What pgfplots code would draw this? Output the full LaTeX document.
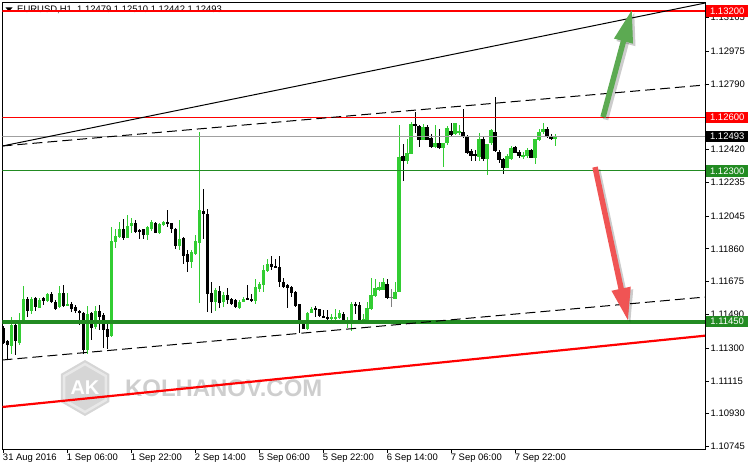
\documentclass[border=0pt]{standalone}
\usepackage{pgfplots}
\pgfplotsset{compat=1.18}
\usepackage{pgfplotstable}
\usepackage{fontspec}
\setmainfont{Liberation Sans}
\usetikzlibrary{arrows.meta}
\definecolor{bull}{RGB}{50,205,50}
\definecolor{lvlgreen}{RGB}{34,139,34}
\definecolor{lvlred}{RGB}{255,0,0}
\definecolor{curgray}{RGB}{160,160,160}
\definecolor{arrgreen}{RGB}{92,170,82}
\definecolor{arrred}{RGB}{240,84,84}
\definecolor{wm}{RGB}{206,206,206}
\newcommand\lbl{\fontsize{9.5}{11}\selectfont}

\pgfplotstableread{
i o h l c
2 1.11313 1.11477 1.11270 1.11430
4 1.11332 1.11496 1.11317 1.11453
5 1.11458 1.11650 1.11455 1.11577
7 1.11509 1.11590 1.11496 1.11577
9 1.11528 1.11581 1.11524 1.11571
11 1.11567 1.11612 1.11562 1.11605
14 1.11533 1.11650 1.11528 1.11609
16 1.11539 1.11609 1.11537 1.11552
21 1.11289 1.11537 1.11270 1.11492
23 1.11420 1.11537 1.11411 1.11509
27 1.11370 1.11984 1.11364 1.11904
28 1.11900 1.11975 1.11868 1.11932
29 1.11928 1.12013 1.11919 1.11975
31 1.11925 1.12050 1.11919 1.11988
32 1.11990 1.12032 1.11947 1.12004
36 1.11938 1.11988 1.11913 1.11984
37 1.11975 1.12022 1.11960 1.12013
39 1.11951 1.12007 1.11942 1.12000
40 1.11994 1.12017 1.11988 1.12013
44 1.11877 1.12022 1.11857 1.11919
47 1.11787 1.11853 1.11753 1.11840
48 1.11834 1.11942 1.11825 1.11904
49 1.11894 1.12520 1.11556 1.12079
53 1.11562 1.11637 1.11511 1.11627
55 1.11562 1.11618 1.11530 1.11603
59 1.11530 1.11571 1.11519 1.11562
60 1.11562 1.11590 1.11558 1.11577
63 1.11565 1.11690 1.11552 1.11646
64 1.11637 1.11672 1.11618 1.11665
65 1.11656 1.11768 1.11618 1.11740
66 1.11735 1.11802 1.11731 1.11774
76 1.11407 1.11505 1.11402 1.11502
77 1.11499 1.11533 1.11496 1.11520
82 1.11464 1.11496 1.11458 1.11473
83 1.11464 1.11520 1.11458 1.11477
84 1.11470 1.11515 1.11462 1.11499
86 1.11440 1.11477 1.11417 1.11449
87 1.11440 1.11562 1.11398 1.11548
90 1.11457 1.11492 1.11440 1.11466
91 1.11449 1.11562 1.11440 1.11530
92 1.11520 1.11694 1.11515 1.11603
93 1.11594 1.11690 1.11586 1.11637
94 1.11627 1.11674 1.11622 1.11643
95 1.11631 1.11694 1.11627 1.11674
98 1.11581 1.11674 1.11575 1.11618
99 1.11618 1.12558 1.11618 1.12376
101 1.12355 1.12483 1.12342 1.12402
102 1.12398 1.12577 1.12394 1.12564
105 1.12477 1.12562 1.12473 1.12548
108 1.12436 1.12558 1.12430 1.12458
110 1.12427 1.12455 1.12323 1.12455
111 1.12455 1.12553 1.12449 1.12539
113 1.12506 1.12568 1.12502 1.12568
114 1.12511 1.12558 1.12502 1.12524
119 1.12379 1.12511 1.12355 1.12483
121 1.12366 1.12449 1.12276 1.12449
122 1.12455 1.12539 1.12445 1.12530
126 1.12317 1.12393 1.12314 1.12383
127 1.12366 1.12441 1.12361 1.12430
130 1.12379 1.12407 1.12370 1.12389
131 1.12383 1.12427 1.12370 1.12417
133 1.12374 1.12483 1.12342 1.12479
134 1.12473 1.12539 1.12468 1.12517
135 1.12517 1.12571 1.12511 1.12539
138 1.12479 1.12510 1.12442 1.12493
}\upbars

\pgfplotstableread{
i o h l c
0 1.11417 1.11424 1.11323 1.11330
1 1.11340 1.11345 1.11233 1.11317
3 1.11434 1.11458 1.11265 1.11340
6 1.11577 1.11590 1.11477 1.11509
8 1.11581 1.11590 1.11511 1.11533
10 1.11581 1.11590 1.11543 1.11567
12 1.11605 1.11616 1.11556 1.11560
13 1.11562 1.11571 1.11515 1.11524
15 1.11612 1.11656 1.11533 1.11537
17 1.11552 1.11562 1.11505 1.11524
18 1.11533 1.11543 1.11496 1.11509
19 1.11509 1.11515 1.11430 1.11496
20 1.11499 1.11505 1.11270 1.11289
22 1.11499 1.11505 1.11345 1.11411
24 1.11509 1.11543 1.11402 1.11477
25 1.11486 1.11496 1.11299 1.11402
26 1.11406 1.11440 1.11293 1.11364
30 1.11971 1.12026 1.11913 1.11922
33 1.12007 1.12022 1.11951 1.11956
34 1.11964 1.11975 1.11919 1.11956
35 1.11970 1.11975 1.11919 1.11938
38 1.12007 1.12013 1.11947 1.11951
41 1.12011 1.12079 1.11984 1.12001
42 1.12004 1.12007 1.11951 1.11975
43 1.11975 1.11981 1.11859 1.11877
45 1.11922 1.11928 1.11774 1.11821
46 1.11829 1.11853 1.11731 1.11787
50 1.12073 1.12197 1.11919 1.12058
51 1.12060 1.12088 1.11505 1.11609
52 1.11612 1.11671 1.11496 1.11562
54 1.11622 1.11652 1.11524 1.11556
56 1.11599 1.11640 1.11552 1.11571
57 1.11577 1.11586 1.11543 1.11548
58 1.11571 1.11577 1.11530 1.11533
61 1.11584 1.11656 1.11571 1.11575
62 1.11577 1.11609 1.11562 1.11565
67 1.11774 1.11819 1.11740 1.11759
68 1.11765 1.11801 1.11750 1.11755
69 1.11759 1.11819 1.11646 1.11674
70 1.11674 1.11694 1.11637 1.11643
71 1.11656 1.11665 1.11528 1.11637
72 1.11643 1.11650 1.11590 1.11612
73 1.11618 1.11622 1.11533 1.11537
74 1.11547 1.11552 1.11387 1.11458
75 1.11458 1.11462 1.11407 1.11411
78 1.11524 1.11539 1.11477 1.11515
79 1.11520 1.11524 1.11477 1.11481
80 1.11483 1.11515 1.11468 1.11473
81 1.11477 1.11515 1.11458 1.11464
85 1.11496 1.11505 1.11434 1.11440
88 1.11548 1.11562 1.11492 1.11539
89 1.11543 1.11562 1.11449 1.11458
96 1.11665 1.11694 1.11581 1.11586
100 1.12383 1.12449 1.12244 1.12355
103 1.12564 1.12633 1.12511 1.12553
104 1.12553 1.12558 1.12436 1.12473
106 1.12548 1.12558 1.12473 1.12477
107 1.12486 1.12506 1.12427 1.12436
109 1.12455 1.12535 1.12423 1.12427
112 1.12524 1.12568 1.12498 1.12502
115 1.12520 1.12648 1.12489 1.12492
116 1.12496 1.12502 1.12393 1.12398
117 1.12411 1.12423 1.12355 1.12385
118 1.12396 1.12417 1.12355 1.12385
120 1.12483 1.12490 1.12355 1.12370
123 1.12520 1.12718 1.12404 1.12411
124 1.12407 1.12417 1.12342 1.12361
125 1.12366 1.12374 1.12282 1.12317
128 1.12436 1.12441 1.12402 1.12404
129 1.12404 1.12417 1.12370 1.12383
132 1.12417 1.12423 1.12370 1.12374
136 1.12539 1.12548 1.12483 1.12492
137 1.12498 1.12506 1.12473 1.12479
}\downbars

\pgfplotstableread{
i o h l c
97 1.11589 1.11637 1.11533 1.11591
}\dojibars

\pgfplotsset{
  wick/.style={only marks, mark=none, mark size=0pt, forget plot, error bars/.cd, y dir=both, y explicit, error mark=none, error bar style={#1, line width=1bp}},
  body/.style={only marks, mark=none, mark size=0pt, forget plot, error bars/.cd, y dir=both, y explicit, error mark=none, error bar style={#1, line width=3.3bp}},
}

\begin{document}
\begin{tikzpicture}
\useasboundingbox (0,0) rectangle (748bp,470bp);
% watermark
\fill[black!16] (85bp,82bp) ++(90:28bp) -- ++(-30:28bp) -- ++(-90:28bp) -- ++(-150:28bp) -- ++(150:28bp) -- ++(90:28bp) -- cycle;
\draw[black!9, line width=2.5bp] (85bp,82bp) ++(90:24bp) -- ++(-30:24bp) -- ++(-90:24bp) -- ++(-150:24bp) -- ++(150:24bp) -- ++(90:24bp) -- cycle;
\node[text=white, font=\bfseries\fontsize{20}{20}\selectfont] at (85bp,82bp) {AK};
\node[text=wm, font=\bfseries\fontsize{24}{24}\selectfont, anchor=west, inner sep=0pt] at (125bp,82bp) {KOLHANOV.COM};
% title
\fill[black] (5.5bp,462.5bp) -- (12.5bp,462.5bp) -- (9bp,458.5bp) -- cycle;
\node[anchor=west, inner sep=0pt, font=\lbl] at (17bp,460bp) {EURUSD,H1\ \ 1.12479 1.12510 1.12442 1.12493};
\begin{axis}[
  at={(2.5bp,21bp)}, anchor=south west,
  scale only axis, width=702.5bp, height=447bp,
  xmin=-0.2, xmax=175.5, ymin=1.10731, ymax=1.13252,
  axis line style={black, line width=0.9bp},
  tick style={black, line width=0.8bp},
  tick align=outside, major tick length=4bp,
  xtick pos=bottom, ytick pos=right, yticklabel pos=right,
  xtick={0,16,32,48,64,80,96,112,128},
  xticklabels={31 Aug 2016,1 Sep 06:00,1 Sep 22:00,2 Sep 14:00,5 Sep 06:00,5 Sep 22:00,6 Sep 14:00,7 Sep 06:00,7 Sep 22:00},
  xticklabel style={anchor=north west, xshift=-1.5bp, inner sep=1bp, font=\lbl},
  ytick={1.10745,1.10930,1.11115,1.11300,1.11490,1.11675,1.11860,1.12045,1.12235,1.12420,1.12790,1.12975,1.13165},
  yticklabels={1.10745,1.10930,1.11115,1.11300,1.11490,1.11675,1.11860,1.12045,1.12235,1.12420,1.12790,1.12975,1.13165},
  yticklabel style={anchor=west, inner sep=1bp, xshift=0.5bp, font=\lbl},
]
% wicks and bodies (centre of range with half-range error bars)
\addplot[wick=bull] table[x=i, y expr=(\thisrow{h}+\thisrow{l})/2, y error expr=(\thisrow{h}-\thisrow{l})/2] {\upbars};
\addplot[body=bull] table[x=i, y expr=(\thisrow{o}+\thisrow{c})/2, y error expr=abs(\thisrow{c}-\thisrow{o})/2] {\upbars};
\addplot[wick=black] table[x=i, y expr=(\thisrow{h}+\thisrow{l})/2, y error expr=(\thisrow{h}-\thisrow{l})/2] {\downbars};
\addplot[body=black] table[x=i, y expr=(\thisrow{o}+\thisrow{c})/2, y error expr=abs(\thisrow{o}-\thisrow{c})/2] {\downbars};
\addplot[wick=gray] table[x=i, y expr=(\thisrow{h}+\thisrow{l})/2, y error expr=(\thisrow{h}-\thisrow{l})/2] {\dojibars};
\addplot[body=gray] table[x=i, y expr=(\thisrow{o}+\thisrow{c})/2, y error expr=abs(\thisrow{c}-\thisrow{o})/2] {\dojibars};
% horizontal levels
\addplot[lvlred, line width=2.2bp] coordinates {(-0.2,1.13200) (175.5,1.13200)};
\addplot[lvlred, line width=1bp] coordinates {(-0.2,1.12600) (175.5,1.12600)};
\addplot[curgray, line width=1bp] coordinates {(-0.2,1.12493) (175.5,1.12493)};
\addplot[lvlgreen, line width=1bp] coordinates {(-0.2,1.12300) (175.5,1.12300)};
\addplot[lvlgreen, line width=4bp] coordinates {(-0.2,1.11450) (175.5,1.11450)};
% trend lines
\addplot[black, line width=1bp] coordinates {(-0.2,1.12440) (175.5,1.13246)};
\addplot[black, line width=1bp, dash pattern=on 10bp off 5bp] coordinates {(-0.2,1.12440) (175.5,1.12784)};
\addplot[black, line width=1bp, dash pattern=on 10bp off 5bp] coordinates {(-0.2,1.11233) (175.5,1.11588)};
\addplot[lvlred, line width=2.2bp] coordinates {(-0.2,1.10968) (175.5,1.11370)};
% arrows
\draw[black, opacity=0.2, line width=5.5bp, -{Triangle[length=33bp,width=18bp]}, xshift=2.5bp, yshift=-2.5bp] (axis cs:150,1.12603) -- (axis cs:157.25,1.13211);
\draw[arrgreen, line width=5.5bp, -{Triangle[length=33bp,width=18bp]}] (axis cs:150,1.12603) -- (axis cs:157.25,1.13211);
\draw[black, opacity=0.2, line width=5.5bp, -{Triangle[length=33bp,width=18bp]}, xshift=2.5bp, yshift=-2.5bp] (axis cs:148,1.12321) -- (axis cs:156.25,1.11453);
\draw[arrred, line width=5.5bp, -{Triangle[length=33bp,width=18bp]}] (axis cs:148,1.12321) -- (axis cs:156.25,1.11453);
\coordinate (b1) at (axis cs:175.5,1.13200);
\coordinate (b2) at (axis cs:175.5,1.12600);
\coordinate (b3) at (axis cs:175.5,1.12493);
\coordinate (b4) at (axis cs:175.5,1.12300);
\coordinate (b5) at (axis cs:175.5,1.11450);
\end{axis}
\tikzset{lvlbox/.style={anchor=west, text=white, minimum width=42bp, minimum height=11.5bp, inner sep=0pt, font=\lbl, xshift=1bp}}
\node[lvlbox, fill=lvlred] at (b1) {1.13200};
\node[lvlbox, fill=lvlred] at (b2) {1.12600};
\node[lvlbox, fill=black] at (b3) {1.12493};
\node[lvlbox, fill=lvlgreen] at (b4) {1.12300};
\node[lvlbox, fill=lvlgreen] at (b5) {1.11450};
\end{tikzpicture}
\end{document}
